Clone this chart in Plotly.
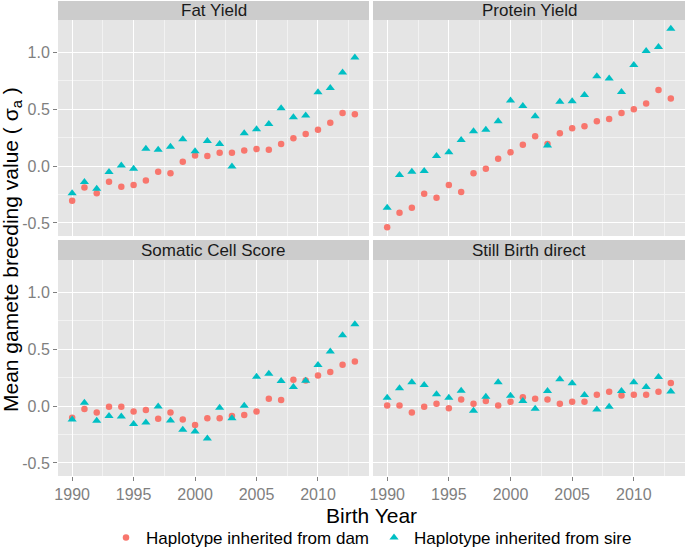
import plotly.graph_objects as go

years = [1990, 1991, 1992, 1993, 1994, 1995, 1996, 1997, 1998, 1999, 2000, 2001,
         2002, 2003, 2004, 2005, 2006, 2007, 2008, 2009, 2010, 2011, 2012, 2013]

panels = ["Fat Yield", "Protein Yield", "Somatic Cell Score", "Still Birth direct"]

fat_dam = [-0.305, -0.188, -0.240, -0.137, -0.182, -0.167, -0.126, -0.050, -0.062, 0.039, 0.094, 0.088,
           0.118, 0.118, 0.138, 0.150, 0.144, 0.194, 0.244, 0.282, 0.320, 0.382, 0.467, 0.455]
fat_sire = [-0.238, -0.141, -0.199, -0.053, 0.006, -0.023, 0.153, 0.144, 0.171, 0.235, 0.130, 0.220,
            0.194, -0.003, 0.288, 0.323, 0.370, 0.508, 0.429, 0.444, 0.649, 0.687, 0.823, 0.955]

prot_dam = [-0.537, -0.411, -0.367, -0.243, -0.279, -0.167, -0.229, -0.062, -0.023, 0.065, 0.121, 0.188,
            0.262, 0.194, 0.288, 0.332, 0.350, 0.394, 0.414, 0.467, 0.500, 0.550, 0.670, 0.594]
prot_sire = [-0.367, -0.079, -0.050, -0.044, 0.088, 0.121, 0.229, 0.306, 0.320, 0.394, 0.576, 0.529,
             0.438, 0.180, 0.567, 0.570, 0.626, 0.790, 0.770, 0.652, 0.890, 1.013, 1.048, 1.207]

scs_dam = [-0.103, -0.026, -0.056, -0.006, -0.006, -0.047, -0.035, -0.112, -0.056, -0.117, -0.167, -0.106,
           -0.106, -0.088, -0.079, -0.047, 0.064, 0.053, 0.232, 0.226, 0.270, 0.299, 0.364, 0.393]
scs_sire = [-0.117, 0.029, -0.129, -0.088, -0.091, -0.158, -0.144, -0.003, -0.126, -0.208, -0.223, -0.285,
            -0.015, -0.106, 0.003, 0.258, 0.284, 0.220, 0.167, 0.223, 0.361, 0.481, 0.622, 0.719]

sb_dam = [0.006, 0.006, -0.056, -0.006, 0.020, -0.018, 0.059, 0.020, 0.044, 0.006, 0.038, 0.077,
          0.064, 0.059, 0.020, 0.038, 0.038, 0.100, 0.126, 0.094, 0.100, 0.100, 0.126, 0.202]
sb_sire = [0.073, 0.156, 0.209, 0.185, 0.103, 0.073, 0.135, -0.041, 0.082, 0.209, 0.091, 0.044,
           -0.024, 0.132, 0.235, 0.200, 0.097, -0.029, -0.006, 0.132, 0.209, 0.167, 0.255, 0.129]

x_ticks = [1990, 1995, 2000, 2005, 2010]
y_ticks = [-0.5, 0.0, 0.5, 1.0]
y_tick_labels = ["-0.5", "0.0", "0.5", "1.0"]

dam_name = "Haplotype inherited from dam"
sire_name = "Haplotype inherited from sire"
dam_color = "#F8766D"
sire_color = "#00BFC4"

series = [(fat_dam, fat_sire), (prot_dam, prot_sire), (scs_dam, scs_sire), (sb_dam, sb_sire)]

fig = go.Figure()
for i, (d, s) in enumerate(series):
    k = "" if i == 0 else str(i + 1)
    fig.add_trace(go.Scatter(x=years, y=d, mode="markers", name=dam_name, cliponaxis=False,
                             marker=dict(symbol="circle", size=6.5, color=dam_color),
                             xaxis="x" + k, yaxis="y" + k, showlegend=(i == 0), legendgroup="dam"))
    fig.add_trace(go.Scatter(x=years, y=s, mode="markers", name=sire_name, cliponaxis=False,
                             marker=dict(symbol="triangle-up", size=8, color=sire_color),
                             xaxis="x" + k, yaxis="y" + k, showlegend=(i == 0), legendgroup="sire"))

H = 549
ml, mr, mt, mb = 58, 0, 1, 73
ph = H - mt - mb
pw = 685 - ml - mr

def ypaper(py):
    return (H - mb - py) / ph

def xpaper(px):
    return (px - ml) / pw

xdoms = [[0, xpaper(369)], [xpaper(373), 1]]
ydoms = [[ypaper(236), ypaper(20)], [0, ypaper(260)]]

xrange_ = [1988.85, 2014.15]
yrange_ = [-0.615, 1.285]

tickfont = dict(family="Liberation Sans, Arial", size=16, color="#7F7F7F")
grid_common = dict(showgrid=True, gridcolor="white", gridwidth=1.1, zeroline=False,
                   showline=False)

layout_axes = {}
for i in range(4):
    row, col = divmod(i, 2)
    k = "" if i == 0 else str(i + 1)
    xa = dict(domain=xdoms[col], range=xrange_, anchor="y" + k,
              tickvals=x_ticks, ticktext=[str(v) for v in x_ticks],
              minor=dict(tickvals=[1992.5, 1997.5, 2002.5, 2007.5, 2012.5], showgrid=True,
                         gridcolor="#F2F2F2", gridwidth=0.6),
              tickfont=tickfont, **grid_common)
    if row == 1:
        xa.update(showticklabels=True, ticks="outside", ticklen=4, tickcolor="#7F7F7F", tickwidth=1)
    else:
        xa.update(showticklabels=False, ticks="")
    ya = dict(domain=ydoms[row], range=yrange_, anchor="x" + k,
              tickvals=y_ticks, ticktext=y_tick_labels,
              minor=dict(tickvals=[-0.25, 0.25, 0.75], showgrid=True,
                         gridcolor="#F2F2F2", gridwidth=0.6),
              tickfont=tickfont, **grid_common)
    if col == 0:
        ya.update(showticklabels=True, ticks="outside", ticklen=4, tickcolor="#7F7F7F", tickwidth=1)
    else:
        ya.update(showticklabels=False, ticks="")
    layout_axes["xaxis" + k] = xa
    layout_axes["yaxis" + k] = ya

shapes = []
annotations = []
strip_y = [[ypaper(20), ypaper(1)], [ypaper(260), ypaper(240)]]
for i, name in enumerate(panels):
    row, col = divmod(i, 2)
    shapes.append(dict(type="rect", xref="paper", yref="paper", layer="below",
                       x0=xdoms[col][0], x1=xdoms[col][1], y0=ydoms[row][0], y1=ydoms[row][1],
                       fillcolor="#E5E5E5", line=dict(width=0)))
    shapes.append(dict(type="rect", xref="paper", yref="paper",
                       x0=xdoms[col][0], x1=xdoms[col][1], y0=strip_y[row][0], y1=strip_y[row][1],
                       fillcolor="#CCCCCC", line=dict(width=0)))
    annotations.append(dict(text=name, xref="paper", yref="paper", showarrow=False,
                            x=(xdoms[col][0] + xdoms[col][1]) / 2,
                            y=(strip_y[row][0] + strip_y[row][1]) / 2,
                            xanchor="center", yanchor="middle",
                            font=dict(family="Liberation Sans, Arial", size=17, color="#1A1A1A")))

annotations.append(dict(text="Birth Year", xref="paper", yref="paper", showarrow=False,
                        x=0.5, y=ypaper(515), xanchor="center", yanchor="middle",
                        font=dict(family="Liberation Sans, Arial", size=21, color="black")))
annotations.append(dict(text="Mean gamete breeding value ( σ<sub>a</sub> )", xref="paper", yref="paper",
                        showarrow=False, textangle=-90,
                        x=xpaper(12), y=ypaper(250), xanchor="center", yanchor="middle",
                        font=dict(family="Liberation Sans, Arial", size=21, color="black")))

fig.update_layout(
    width=685, height=549,
    margin=dict(l=ml, r=mr, t=mt, b=mb, autoexpand=False),
    paper_bgcolor="white", plot_bgcolor="rgba(0,0,0,0)",
    shapes=shapes, annotations=annotations,
    legend=dict(orientation="h", x=0.5, xanchor="center", y=ypaper(538), yanchor="middle",
                font=dict(family="Liberation Sans, Arial", size=17, color="black"),
                itemsizing="trace", tracegroupgap=0, itemwidth=30),
    **layout_axes,
)

fig.write_html("out.html", config={"displayModeBar": False},
               post_script="document.body.style.margin='0';")
